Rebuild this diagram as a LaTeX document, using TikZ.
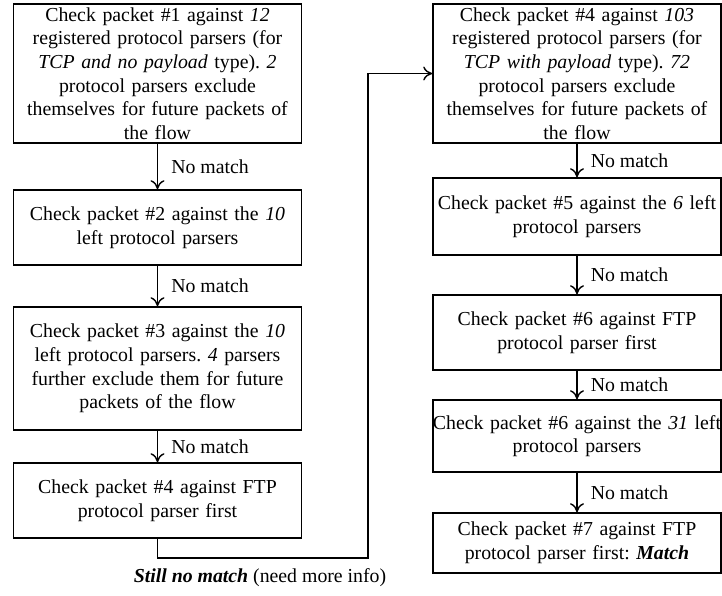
\documentclass[tikz,border=0pt]{standalone}
\usepackage{fontspec}
\setmainfont{Liberation Serif}
\usetikzlibrary{arrows.meta}
\frenchspacing

\begin{document}
\begin{tikzpicture}[x=1pt,y=-1pt,
    parsebox/.style={shape=rectangle,draw,line width=1.6pt,minimum width=288pt,text width=320pt,align=center,inner xsep=-16pt,inner ysep=0pt,font=\fontsize{19.8}{23.6}\selectfont},
    nomatch/.style={right=13pt,inner sep=0pt,font=\fontsize{19.8}{23.6}\selectfont},
    flow/.style={-{To[length=9pt,width=14pt,line width=1.4pt]},line width=1.6pt}]
\useasboundingbox (0,0) rectangle (722,595);

% left column
\node[parsebox,minimum height=139pt] (p1) at (157.5,73.5) {Check packet \#1 against \textit{12}\\ registered protocol parsers (for\\ \textit{TCP and no payload} type). \textit{2}\\ protocol parsers exclude\\ themselves for future packets of\\ the flow};
\node[parsebox,minimum height=75pt] (p2) at (157.5,227.5) {Check packet \#2 against the \textit{10}\\ left protocol parsers};
\node[parsebox,minimum height=123pt] (p3) at (157.5,368.5) {Check packet \#3 against the \textit{10}\\ left protocol parsers. \textit{4} parsers\\ further exclude them for future\\ packets of the flow};
\node[parsebox,minimum height=75pt] (p4) at (157.5,500.5) {Check packet \#4 against FTP\\ protocol parser first};

% right column
\node[parsebox,minimum height=139pt] (q1) at (577,73.5) {Check packet \#4 against \textit{103}\\ registered protocol parsers (for\\ \textit{TCP with payload} type). \textit{72}\\ protocol parsers exclude\\ themselves for future packets of\\ the flow};
\node[parsebox,minimum height=77pt] (q2) at (577,216.5) {Check packet \#5 against the \textit{6} left\\ protocol parsers};
\node[parsebox,minimum height=75pt] (q3) at (577,332.5) {Check packet \#6 against FTP\\ protocol parser first};
\node[parsebox,minimum height=72pt] (q4) at (577,436) {Check packet \#6 against the \textit{31} left\\ protocol parsers};
\node[parsebox,minimum height=60pt] (q5) at (577,543) {Check packet \#7 against FTP\\ protocol parser first: \textbf{\textit{Match}}};

\draw[flow] (p1) to node[nomatch] {No match} (p2);
\draw[flow] (p2) to node[nomatch] {No match} (p3);
\draw[flow] (p3) to node[nomatch] {No match} (p4);

\draw[flow] (q1) to node[nomatch] {No match} (q2);
\draw[flow] (q2) to node[nomatch] {No match} (q3);
\draw[flow] (q3) to node[nomatch] {No match} (q4);
\draw[flow] (q4) to node[nomatch] {No match} (q5);

% jump to the second column
\coordinate (turn) at (368,558);
\draw[flow] (p4.south) |- (turn) |- (q1.west);
\node[font=\fontsize{19.8}{23.6}\selectfont,inner sep=0pt] (still) at (260,578) {\textbf{\textit{Still no match}} (need more info)};
\end{tikzpicture}
\end{document}
